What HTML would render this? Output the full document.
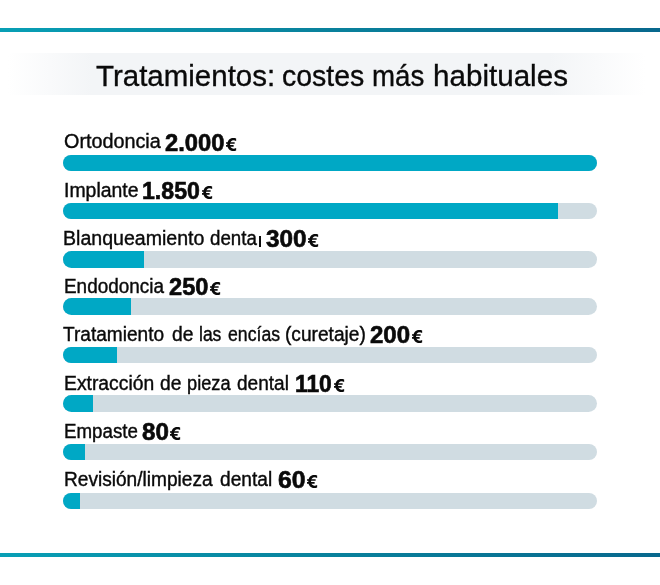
<!DOCTYPE html>
<html><head><meta charset="utf-8"><title>Tratamientos</title>
<style>
html,body{margin:0;padding:0;background:#fff;}
body{width:660px;height:585px;position:relative;overflow:hidden;font-family:"Liberation Sans",sans-serif;color:#0a0a0a;}
.ln{position:absolute;left:0;width:660px;height:4.4px;background:linear-gradient(90deg,#089fb5 0%,#09819c 50%,#08688d 100%);}
.band{position:absolute;left:8px;top:52.6px;width:644px;height:42.3px;background:linear-gradient(90deg,#fff 0%,#f3f5f7 13%,#f3f5f7 84%,#fff 99%);}
.t{position:absolute;white-space:nowrap;line-height:40px;height:40px;transform-origin:0 0;}
.title{font:normal 30px/40px "Liberation Sans",sans-serif;-webkit-text-stroke:0.35px #0a0a0a;}
.lab{font:normal 20px/40px "Liberation Sans",sans-serif;-webkit-text-stroke:0.4px #0a0a0a;}
.val{font:bold 23px/40px "Liberation Sans",sans-serif;-webkit-text-stroke:0.6px #0a0a0a;}
.eur{position:absolute;width:10.1px;height:13.1px;overflow:visible;}
.bar{position:absolute;left:63px;width:534px;height:16.6px;border-radius:9px;background:#d0dce2;overflow:hidden;}
.fill{position:absolute;left:0;top:0;bottom:0;background:#00a8c5;}
.sl{position:absolute;background:#0a0a0a;}
#w{position:absolute;left:0;top:0;width:660px;height:585px;will-change:transform;}
</style></head><body>
<div id="w"><div class="ln" style="top:27.7px"></div>
<div class="band"></div>
<div class="t title" style="left:96.00px;top:56.00px;transform:scaleX(0.9828)">Tratamientos:</div>
<div class="t title" style="left:282.45px;top:56.00px;transform:scaleX(0.9482)">costes</div>
<div class="t title" style="left:372.36px;top:56.00px;transform:scaleX(0.9222)">más</div>
<div class="t title" style="left:433.23px;top:56.00px;transform:scaleX(0.9866)">habituales</div>
<div class="t lab" style="left:63.85px;top:121.00px;transform:scaleX(0.9888)">Ortodoncia</div>
<div class="t val" style="left:165.10px;top:123.00px;transform:scaleX(1.0333)">2.000</div>
<svg class="eur" viewBox="0 0 9.8 12.7" preserveAspectRatio="none" style="left:226.3px;top:137.80px"><path d="M9.85 .5C8.9 .15 8 0 7 0 3.6 0 1.25 2.6 1.25 6.35c0 3.75 2.35 6.35 5.75 6.35 1 0 1.9-.15 2.85-.5V9.8c-.85.4-1.65.6-2.55.6-2.1 0-3.35-1.6-3.35-4.05S5.200 2.300 7.300 2.300c.9 0 1.700.2 2.550.6z" fill="#0a0a0a"/><path d="M0 4.100h8.400v1.500H0zM0 6.900h7.400v1.500H0z" fill="#0a0a0a"/></svg>
<div class="bar" style="top:154.80px"><div class="fill" style="width:534.0px"></div></div>
<div class="t lab" style="left:63.58px;top:170.00px;transform:scaleX(0.9720)">Implante</div>
<div class="t val" style="left:142.19px;top:171.00px;transform:scaleX(1.0054)">1.850</div>
<svg class="eur" viewBox="0 0 9.8 12.7" preserveAspectRatio="none" style="left:201.6px;top:185.80px"><path d="M9.85 .5C8.9 .15 8 0 7 0 3.6 0 1.25 2.6 1.25 6.35c0 3.75 2.35 6.35 5.75 6.35 1 0 1.9-.15 2.85-.5V9.8c-.85.4-1.65.6-2.55.6-2.1 0-3.35-1.6-3.35-4.05S5.200 2.300 7.300 2.300c.9 0 1.700.2 2.550.6z" fill="#0a0a0a"/><path d="M0 4.100h8.400v1.500H0zM0 6.900h7.400v1.500H0z" fill="#0a0a0a"/></svg>
<div class="bar" style="top:202.80px"><div class="fill" style="width:494.8px"></div></div>
<div class="t lab" style="left:63.47px;top:218.00px;transform:scaleX(0.9783)">Blanqueamiento</div>
<div class="t lab" style="left:209.85px;top:218.00px;transform:scaleX(0.9353)">denta</div>
<div class="t val" style="left:266.40px;top:219.00px;transform:scaleX(1.0579)">300</div>
<svg class="eur" viewBox="0 0 9.8 12.7" preserveAspectRatio="none" style="left:308.4px;top:233.80px"><path d="M9.85 .5C8.9 .15 8 0 7 0 3.6 0 1.25 2.6 1.25 6.35c0 3.75 2.35 6.35 5.75 6.35 1 0 1.9-.15 2.85-.5V9.8c-.85.4-1.65.6-2.55.6-2.1 0-3.35-1.6-3.35-4.05S5.200 2.300 7.300 2.300c.9 0 1.700.2 2.550.6z" fill="#0a0a0a"/><path d="M0 4.100h8.400v1.500H0zM0 6.900h7.400v1.500H0z" fill="#0a0a0a"/></svg>
<div class="sl" style="left:258.7px;top:235.80px;width:2.5px;height:11.1px"></div>
<div class="bar" style="top:251.20px"><div class="fill" style="width:81.0px"></div></div>
<div class="t lab" style="left:63.60px;top:266.00px;transform:scaleX(0.9457)">Endodoncia</div>
<div class="t val" style="left:169.30px;top:267.00px;transform:scaleX(1.0263)">250</div>
<svg class="eur" viewBox="0 0 9.8 12.7" preserveAspectRatio="none" style="left:210.0px;top:281.80px"><path d="M9.85 .5C8.9 .15 8 0 7 0 3.6 0 1.25 2.6 1.25 6.35c0 3.75 2.35 6.35 5.75 6.35 1 0 1.9-.15 2.85-.5V9.8c-.85.4-1.65.6-2.55.6-2.1 0-3.35-1.6-3.35-4.05S5.200 2.300 7.300 2.300c.9 0 1.700.2 2.550.6z" fill="#0a0a0a"/><path d="M0 4.100h8.400v1.500H0zM0 6.900h7.400v1.500H0z" fill="#0a0a0a"/></svg>
<div class="bar" style="top:298.20px"><div class="fill" style="width:67.7px"></div></div>
<div class="t lab" style="left:63.25px;top:314.00px;transform:scaleX(0.9538)">Tratamiento</div>
<div class="t lab" style="left:171.75px;top:314.00px;transform:scaleX(0.9636)">de</div>
<div class="t lab" style="left:199.28px;top:314.00px;transform:scaleX(0.8750)">las</div>
<div class="t lab" style="left:227.85px;top:314.00px;transform:scaleX(0.8831)">encías</div>
<div class="t lab" style="left:284.69px;top:314.00px;transform:scaleX(0.9566)">(curetaje)</div>
<div class="t val" style="left:369.80px;top:315.00px;transform:scaleX(1.0447)">200</div>
<svg class="eur" viewBox="0 0 9.8 12.7" preserveAspectRatio="none" style="left:411.5px;top:329.80px"><path d="M9.85 .5C8.9 .15 8 0 7 0 3.6 0 1.25 2.6 1.25 6.35c0 3.75 2.35 6.35 5.75 6.35 1 0 1.9-.15 2.85-.5V9.8c-.85.4-1.65.6-2.55.6-2.1 0-3.35-1.6-3.35-4.05S5.200 2.300 7.300 2.300c.9 0 1.700.2 2.550.6z" fill="#0a0a0a"/><path d="M0 4.100h8.400v1.500H0zM0 6.900h7.400v1.500H0z" fill="#0a0a0a"/></svg>
<div class="bar" style="top:346.60px"><div class="fill" style="width:54.3px"></div></div>
<div class="t lab" style="left:63.58px;top:363.00px;transform:scaleX(0.9663)">Extracción</div>
<div class="t lab" style="left:160.25px;top:363.00px;transform:scaleX(0.9636)">de</div>
<div class="t lab" style="left:186.64px;top:363.00px;transform:scaleX(0.9106)">pieza</div>
<div class="t lab" style="left:237.05px;top:363.00px;transform:scaleX(0.9519)">dental</div>
<div class="t val" style="left:295.41px;top:364.00px;transform:scaleX(0.9917)">110</div>
<svg class="eur" viewBox="0 0 9.8 12.7" preserveAspectRatio="none" style="left:334.1px;top:378.80px"><path d="M9.85 .5C8.9 .15 8 0 7 0 3.6 0 1.25 2.6 1.25 6.35c0 3.75 2.35 6.35 5.75 6.35 1 0 1.9-.15 2.85-.5V9.8c-.85.4-1.65.6-2.55.6-2.1 0-3.35-1.6-3.35-4.05S5.200 2.300 7.300 2.300c.9 0 1.700.2 2.550.6z" fill="#0a0a0a"/><path d="M0 4.100h8.400v1.500H0zM0 6.900h7.400v1.500H0z" fill="#0a0a0a"/></svg>
<div class="bar" style="top:395.40px"><div class="fill" style="width:30.3px"></div></div>
<div class="t lab" style="left:63.61px;top:411.00px;transform:scaleX(0.9364)">Empaste</div>
<div class="t val" style="left:141.70px;top:412.00px;transform:scaleX(1.0520)">80</div>
<svg class="eur" viewBox="0 0 9.8 12.7" preserveAspectRatio="none" style="left:170.0px;top:426.80px"><path d="M9.85 .5C8.9 .15 8 0 7 0 3.6 0 1.25 2.6 1.25 6.35c0 3.75 2.35 6.35 5.75 6.35 1 0 1.9-.15 2.85-.5V9.8c-.85.4-1.65.6-2.55.6-2.1 0-3.35-1.6-3.35-4.05S5.200 2.300 7.300 2.300c.9 0 1.700.2 2.550.6z" fill="#0a0a0a"/><path d="M0 4.100h8.400v1.500H0zM0 6.900h7.400v1.500H0z" fill="#0a0a0a"/></svg>
<div class="bar" style="top:443.90px"><div class="fill" style="width:22.3px"></div></div>
<div class="t lab" style="left:63.60px;top:459.00px;transform:scaleX(0.9548)">Revisión/limpieza</div>
<div class="t lab" style="left:220.05px;top:459.00px;transform:scaleX(0.9574)">dental</div>
<div class="t val" style="left:278.20px;top:460.00px;transform:scaleX(1.0760)">60</div>
<svg class="eur" viewBox="0 0 9.8 12.7" preserveAspectRatio="none" style="left:306.5px;top:474.80px"><path d="M9.85 .5C8.9 .15 8 0 7 0 3.6 0 1.25 2.6 1.25 6.35c0 3.75 2.35 6.35 5.75 6.35 1 0 1.9-.15 2.85-.5V9.8c-.85.4-1.65.6-2.55.6-2.1 0-3.35-1.6-3.35-4.05S5.200 2.300 7.300 2.300c.9 0 1.700.2 2.550.6z" fill="#0a0a0a"/><path d="M0 4.100h8.400v1.500H0zM0 6.900h7.400v1.500H0z" fill="#0a0a0a"/></svg>
<div class="bar" style="top:492.60px"><div class="fill" style="width:16.9px"></div></div>
<div class="ln" style="top:552.9px"></div></div>
</body></html>
